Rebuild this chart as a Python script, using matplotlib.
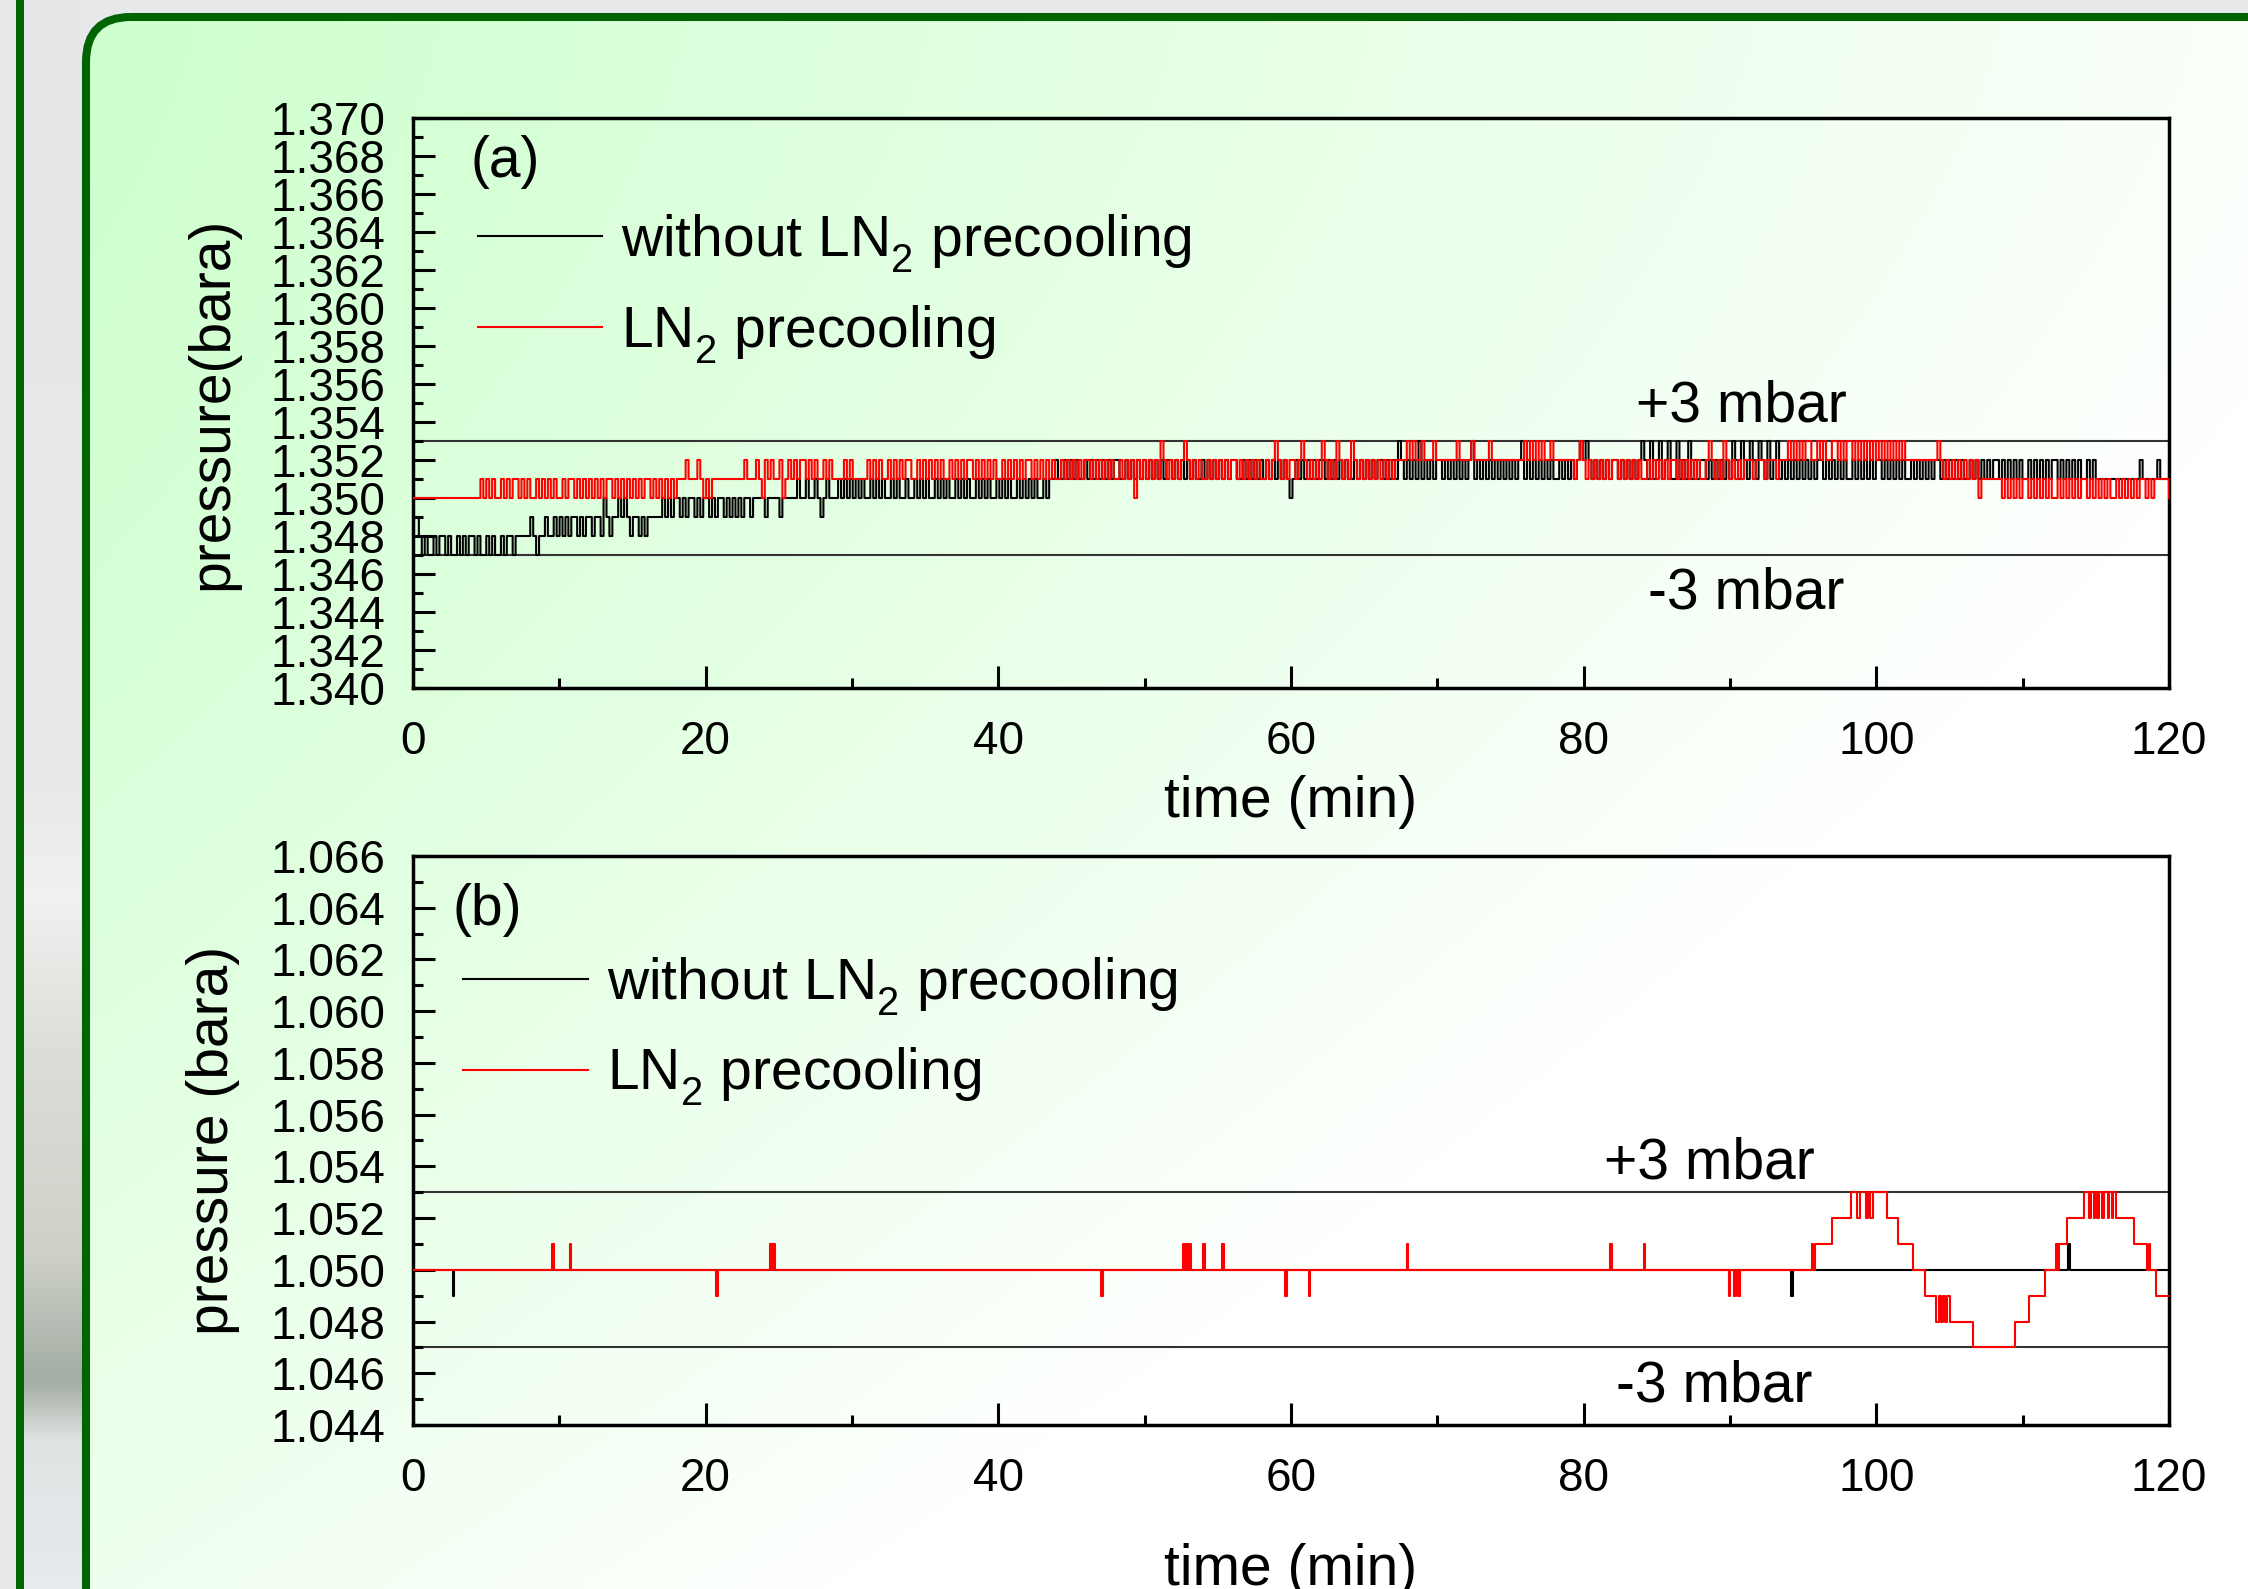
import numpy as np
import matplotlib
matplotlib.use('Agg')
import matplotlib.pyplot as plt
import matplotlib.colors as mcolors
import matplotlib._mathtext as mathtext_internals
from matplotlib.patches import FancyBboxPatch, Rectangle
from matplotlib.ticker import MultipleLocator, FormatStrFormatter

plt.rcParams['font.family'] = ['Liberation Sans', 'DejaVu Sans']
plt.rcParams['mathtext.fontset'] = 'custom'
plt.rcParams['mathtext.rm'] = 'Liberation Sans'
plt.rcParams['mathtext.it'] = 'Liberation Sans:italic'
plt.rcParams['mathtext.default'] = 'regular'
# drop the subscript a bit lower, like the original figure
mathtext_internals.FontConstantsBase.sub1 = 0.55


# ---------------- data ----------------
# (a) one sample every 0.2 min over 0-120 min; each digit is the pressure
# above 1.347 bara in mbar (0 -> 1.347, 3 -> 1.350, 6 -> 1.353)
base_a = 1.347
black_a = (
    "2210100101" "1010010101" "1010010100" "1011011111" "2101121121"          # 0-10
    "2121221212" "2122132122" "3232122121" "22222" "323233232332323"          # 10-20
    "3232332323232332" "33332333323333" "343343343234333" "43434"            # 20-30
    "3434334343" "4334343343" "3434343343" "4343343434" "3343434334"          # 30-40
    "3434334343" "4343343" "4454454545" "4454545454" "5455445454" "545"       # 40-50
    "4545454554" "5454545445" "4545454545" "5445454545" "4545454543"          # 50-60
    "4545454545" "5454545454" "4545454545" "5454546545" "4546454545"          # 60-70
    "5454545454" "5645454545" "4545454564" "5454545454" "4545454565"          # 70-80
    "6545454545" "5454545456" "5464564564" "4645464545" "5454545454"          # 80-90
    "6546546546" "5464564545" "4545454545" "5454545454" "4545454545"          # 90-100
    "5454545454" "4545454545" "5454545454" "4545454545" "5454545454"          # 100-110
    "4545454545" "5454545454" "45454" "44444444444444" "54444454445"          # 110-120
)
red_a = (
    "3333333333" "3333333333" "333" "4343433434" "3443434334" "3434343"       # 0-10
    "3434434343" "4343434434" "3434343434" "4343434343" "4445444543"          # 10-20
    "43" "44444444444" "5" "444" "543545445345454554545445454" "444545"       # 20-30
    "44444" "5454544545" "4545544545" "4545454454" "5454554545" "45454"       # 30-40
    "4545454545" "5454545454" "4545454545" "5454545454" "4545453545"          # 40-50
    "4545465454" "5456545454" "4545454545" "5454545454" "4545654545"          # 50-60
    "5456545454" "6545465454" "6545454545" "4545455556" "5655655565"          # 60-70
    "5555556555" "5655555655" "5555555556" "5656565565" "5555554565"          # 70-80
    "4545454545" "5454545454" "4545454545" "5454545454" "4565454654"          # 80-90
    "5454555455" "545554555" "6565656655" "6565566565" "6656565656" "5"       # 90-100
    "6565656565" "5555555555" "6545454545" "4545344444" "4434343434"          # 100-110
    "4343434343" "3434343434" "4343434343" "3434343434" "4343444443"          # 110-120
)

# (b) step changes: time (min) and deviation from 1.050 bara (mbar)
base_b = 1.050
black_b_t = [0, 2.7, 2.82, 94.2, 94.32, 113.1, 113.22, 120]
black_b_dp = [0, -1, 0, -1, 0, 1, 0, 0]
red_b_t = [0, 9.5, 9.62, 10.7, 10.82, 20.7, 20.82, 24.4, 24.5, 24.6, 24.72,
           47.0, 47.12, 52.6, 52.68, 52.75, 52.83, 52.9, 52.98, 53.05, 53.17,
           54.0, 54.12, 55.3, 55.42, 59.6, 59.72, 61.2, 61.32, 67.9, 68.02,
           81.8, 81.92, 84.1, 84.22, 89.9, 89.98, 90.3, 90.38, 90.55, 90.67,
           95.6, 95.7, 95.8, 97.0, 98.3, 98.7, 98.85, 99.3, 99.45, 99.6, 99.75,
           100.7, 101.5, 102.5, 103.3, 104.1, 104.25, 104.4, 104.55, 104.7,
           104.85, 105.0, 106.6, 109.5, 110.4, 111.5, 112.3, 112.4, 112.5,
           113.0, 114.2, 114.55, 114.65, 114.85, 114.95, 115.1, 115.2, 115.45,
           115.55, 115.8, 115.9, 116.1, 116.2, 116.4, 117.6, 118.5, 118.6,
           118.7, 119.1, 120]
red_b_dp = [0, 1, 0, 1, 0, -1, 0, 1, 0, 1, 0,
            -1, 0, 1, 0, 1, 0, 1, 0, 1, 0,
            1, 0, 1, 0, -1, 0, -1, 0, 1, 0,
            1, 0, 1, 0, -1, 0, -1, 0, -1, 0,
            1, 0, 1, 2, 3, 2, 3, 2, 3, 2, 3,
            2, 1, 0, -1, -2, -1, -2, -1, -2,
            -1, -2, -3, -2, -1, 0, 1, 0, 1,
            2, 3, 2, 3, 2, 3, 2, 3, 2,
            3, 2, 3, 2, 3, 2, 1, 0, 1,
            0, -1, -1]

limits_a = (1.340, 1.370)
limits_b = (1.044, 1.066)
band_a = (1.347, 1.353)
band_b = (1.047, 1.053)
label_black = 'without LN$_2$ precooling'
label_red = 'LN$_2$ precooling'


def digits_to_series(s, base):
    p = base + np.array([int(c) for c in s]) / 1000.0
    t = np.linspace(0, 120, len(p))
    return t, p


W, H = 2248, 1589
fig = plt.figure(figsize=(W / 100, H / 100), dpi=100)
fig.patch.set_facecolor('#e8e8ea')

# ---------------- background decoration ----------------
bg = fig.add_axes([0, 0, 1, 1], zorder=-10)
bg.axis('off')

strip_y = [0, 780, 900, 1050, 1250, 1380, 1440, 1589]
strip_c = ['#e7e7e9', '#e9e9eb', '#f0f1f0', '#dcded8', '#cfd1c9', '#a3ada3',
           '#dfe3e3', '#e8ebef']
rows = np.arange(H)
strip_rgb = np.stack([np.interp(rows, strip_y, [mcolors.to_rgb(c)[k] for c in strip_c])
                      for k in range(3)], axis=-1)[:, None, :]
bg.imshow(strip_rgb, extent=[24, 82, H, 0], aspect='auto', interpolation='bilinear')
bg.add_patch(Rectangle((16, 0), 8, H, facecolor='#006400', edgecolor='none'))

gx = np.linspace(82, W, 300)
gy = np.linspace(13, H, 220)
X, Y = np.meshgrid(gx, gy)
tt = np.clip(0.9 * X / W + 0.65 * (Y / H) ** 1.5, 0, 1)
grad = np.dstack([0.8 + 0.2 * tt, np.ones_like(tt), 0.8 + 0.2 * tt])
im = bg.imshow(grad, extent=[82, W, H, 13], aspect='auto', interpolation='bilinear')
box = FancyBboxPatch((86, 17), 2400, 1800, boxstyle='round,pad=0,rounding_size=45',
                     facecolor='none', edgecolor='#006400', linewidth=5.8)
bg.add_patch(box)
im.set_clip_path(box)
bg.set_xlim(0, W)
bg.set_ylim(H, 0)

# ---------------- panels ----------------
ax1 = fig.add_axes([413 / W, 1 - 688 / H, 1756 / W, 570 / H])
ax2 = fig.add_axes([413 / W, 1 - 1425 / H, 1756 / W, 569 / H])

t_blk, p_blk = digits_to_series(black_a, base_a)
t_red, p_red = digits_to_series(red_a, base_a)
for y in band_a:
    ax1.axhline(y, color='#333333', lw=1.5, zorder=1)
ax1.plot(t_blk, p_blk, color='black', lw=1.5, drawstyle='steps-post',
         label=label_black, zorder=2)
ax1.plot(t_red, p_red, color='#ff0000', lw=1.5, drawstyle='steps-post',
         label=label_red, zorder=3)

for y in band_b:
    ax2.axhline(y, color='#333333', lw=1.5, zorder=1)
ax2.plot(black_b_t, base_b + np.array(black_b_dp) / 1000.0, color='black', lw=1.5,
         drawstyle='steps-post', label=label_black, zorder=2)
ax2.plot(red_b_t, base_b + np.array(red_b_dp) / 1000.0, color='#ff0000', lw=1.5,
         drawstyle='steps-post', label=label_red, zorder=3)

for ax, lim in ((ax1, limits_a), (ax2, limits_b)):
    ax.set_facecolor('none')
    ax.set_xlim(0, 120)
    ax.set_ylim(*lim)
    ax.xaxis.set_major_locator(MultipleLocator(20))
    ax.xaxis.set_minor_locator(MultipleLocator(10))
    ax.yaxis.set_major_locator(MultipleLocator(0.002))
    ax.yaxis.set_minor_locator(MultipleLocator(0.001))
    ax.yaxis.set_major_formatter(FormatStrFormatter('%.3f'))
    ax.tick_params(which='both', direction='in', top=False, right=False,
                   width=2.2, labelsize=33)
    ax.tick_params(which='major', length=15.5)
    ax.tick_params(which='minor', length=7.5)
    ax.tick_params(axis='x', pad=23)
    ax.tick_params(axis='y', pad=20)
    for sp in ax.spines.values():
        sp.set_linewidth(2.5)

ax1.set_xlabel('time (min)', fontsize=41, labelpad=8)
ax2.set_xlabel('time (min)', fontsize=41, labelpad=30)
ax1.set_ylabel('pressure(bara)', fontsize=41, labelpad=22)
ax2.set_ylabel('pressure (bara)', fontsize=41, labelpad=22)

ax1.text(3.9, 1.3677, '(a)', ha='left', va='center', fontsize=41)
ax1.text(90.8, 1.3548, '+3 mbar', ha='center', va='center', fontsize=41)
ax1.text(91.1, 1.3450, '-3 mbar', ha='center', va='center', fontsize=41)
ax2.text(2.7, 1.0639, '(b)', ha='left', va='center', fontsize=41)
ax2.text(88.6, 1.0541, '+3 mbar', ha='center', va='center', fontsize=41)
ax2.text(88.9, 1.0455, '-3 mbar', ha='center', va='center', fontsize=41)

leg_kw = dict(loc='upper left', frameon=False, fontsize=41, handlelength=2.19,
              handletextpad=0.33, borderpad=0, borderaxespad=0, labelspacing=0.5)
ax1.legend(bbox_to_anchor=(0.0368, 0.835), **leg_kw)
ax2.legend(bbox_to_anchor=(0.0286, 0.826), **leg_kw)

fig.savefig('out.png', dpi=100, facecolor=fig.get_facecolor())
